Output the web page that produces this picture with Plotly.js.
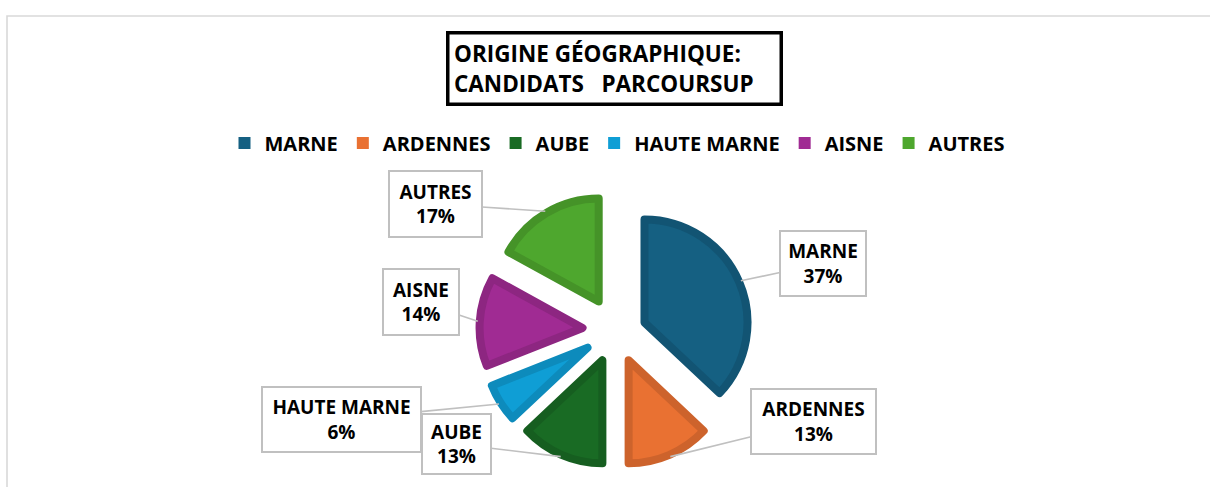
<!DOCTYPE html>
<html>
<head>
<meta charset="utf-8">
<script src="https://cdn.plot.ly/plotly-3.0.1.min.js"></script>
<style>
  html, body { margin: 0; padding: 0; background: #fff; }
  #chart { width: 1210px; height: 487px; }
  .pielayer path.surface { stroke-linejoin: round; }
</style>
</head>
<body>
<div id="chart"></div>
<script>
// ---- data ----
const labels = ["MARNE", "ARDENNES", "AUBE", "HAUTE MARNE", "AISNE", "AUTRES"];
const values = [37, 13, 13, 6, 14, 17];
const fillColors = ["#156082", "#E97132", "#196B24", "#0F9ED5", "#A02B93", "#4EA72E"];
const borderColors = ["#125473", "#cd632c", "#165e20", "#0d8bbc", "#8d2681", "#459328"];
const titleLines = ["ORIGINE GÉOGRAPHIQUE:", "CANDIDATS\u00a0\u00a0 PARCOURSUP"];

// ---- layout geometry (pixels) ----
const W = 1210, H = 487;
const px = x => x / W;
const py = y => 1 - y / H;
const R = 103;                 // pie radius
const LINE_W = 8;              // slice border width
const PULL_PX = 33;            // explosion distance
const PULL = PULL_PX / R;
const centre = [615.5, 330];   // centre of the exploded pie
const firstApex = [644.5, 322.5]; // apex of the first (largest) slice
// callout boxes: centre and size
const calloutBoxes = [
  {cx: 823,   cy: 263.5, w: 88,  h: 67},
  {cx: 813.5, cy: 421.5, w: 127, h: 67},
  {cx: 456.5, cy: 444,   w: 71,  h: 62},
  {cx: 341.5, cy: 419.5, w: 161, h: 67},
  {cx: 421,   cy: 302,   w: 78,  h: 68},
  {cx: 435.5, cy: 204,   w: 95,  h: 68}
];

const transparent = "rgba(0,0,0,0)";
const font = {family: "Open Sans, Lato, sans-serif", color: "#000000", weight: "bold"};

// legend-only pie (tiny)
const legendPie = {
  type: "pie", labels: labels, values: values, sort: false, direction: "clockwise", rotation: 0,
  marker: {colors: fillColors, line: {width: 0}},
  textinfo: "none", hoverinfo: "skip", showlegend: true,
  domain: {x: [0, 0.000001], y: [0, 0.000001]}
};
// all slices except the first
const mainPie = {
  type: "pie", labels: labels, values: values, sort: false, direction: "clockwise", rotation: 0,
  marker: {
    colors: fillColors.map((c, i) => i === 0 ? transparent : c),
    line: {color: borderColors.map((c, i) => i === 0 ? transparent : c), width: LINE_W}
  },
  pull: labels.map(() => PULL),
  textinfo: "none", hoverinfo: "label+percent", showlegend: false,
  domain: {
    x: [px(centre[0] - 170), px(centre[0] + 170)],
    y: [py(centre[1] + R * (1 + PULL)), py(centre[1] - R * (1 + PULL))]
  }
};
// first slice on its own
const firstPie = {
  type: "pie", labels: labels, values: values, sort: false, direction: "clockwise", rotation: 0,
  marker: {
    colors: fillColors.map((c, i) => i === 0 ? c : transparent),
    line: {color: borderColors.map((c, i) => i === 0 ? c : transparent), width: LINE_W}
  },
  textinfo: "none", hoverinfo: "label+percent", showlegend: false,
  domain: {
    x: [px(firstApex[0] - 160), px(firstApex[0] + 160)],
    y: [py(firstApex[1] + R), py(firstApex[1] - R)]
  }
};

// callout annotations, pointing to the middle of each slice's arc
const total = values.reduce((a, b) => a + b, 0);
let cum = 0;
const annotations = labels.map((lab, i) => {
  const mid = (cum + values[i] / 2) / total * 2 * Math.PI;
  cum += values[i];
  const ux = Math.sin(mid), uy = -Math.cos(mid);
  const apex = i === 0 ? firstApex : [centre[0] + PULL_PX * ux, centre[1] + PULL_PX * uy];
  const tx = apex[0] + (R + 2) * ux, ty = apex[1] + (R + 2) * uy;
  const b = calloutBoxes[i];
  const pct = Math.round(values[i] / total * 100);
  return {
    xref: "paper", yref: "paper", x: px(tx), y: py(ty),
    ax: b.cx - tx, ay: b.cy - ty,
    showarrow: true, arrowhead: 0, arrowwidth: 1.6, arrowcolor: "#c0c0c0",
    text: lab + "<br>" + pct + "%",
    font: Object.assign({size: 19}, font),
    align: "center", valign: "middle",
    width: b.w - 4, height: b.h - 4,
    bgcolor: "#ffffff", bordercolor: "#c0c0c0", borderwidth: 2, borderpad: 0
  };
});
// title box
annotations.push({
  xref: "paper", yref: "paper", x: px(446), y: py(31), xanchor: "left", yanchor: "top",
  showarrow: false, text: titleLines.join("<br>"),
  font: Object.assign({size: 22.5}, font),
  align: "left", valign: "middle",
  width: 337 - 16, height: 75 - 16,
  bordercolor: "#000000", borderwidth: 3.5, borderpad: 4.5, bgcolor: "#ffffff"
});

const layout = {
  width: W, height: H,
  margin: {l: 0, r: 0, t: 0, b: 0},
  paper_bgcolor: "#ffffff",
  showlegend: true,
  legend: {
    orientation: "h", x: px(617), xanchor: "center", y: py(143), yanchor: "middle",
    font: Object.assign({size: 20}, font), itemwidth: 30, traceorder: "normal"
  },
  annotations: annotations,
  shapes: [{
    type: "rect", xref: "paper", yref: "paper",
    x0: px(7), x1: 1.2, y0: -0.2, y1: py(16),
    line: {color: "#d9d9d9", width: 1.6}, fillcolor: "rgba(0,0,0,0)", layer: "below"
  }]
};

Plotly.newPlot("chart", [legendPie, mainPie, firstPie], layout, {displayModeBar: false, staticPlot: true});
</script>
</body>
</html>
